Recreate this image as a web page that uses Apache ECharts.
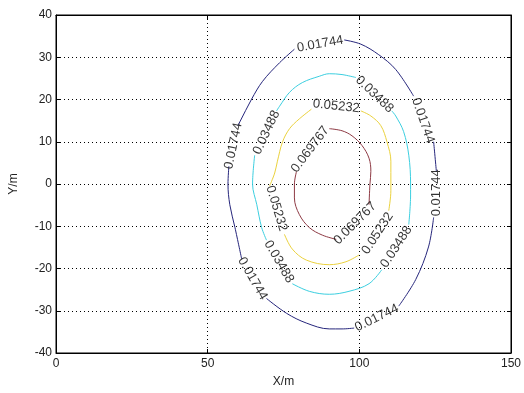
<!DOCTYPE html>
<html lang="en">
<head>
    <meta charset="UTF-8">
    <title>contour</title>
</head>
<body style="margin:0">
<div id="main" style="width:524px;height:393px"></div>
<script src="https://cdnjs.cloudflare.com/ajax/libs/echarts/6.0.0/echarts.min.js"></script>
<script>
    // contour levels and colours
    var levels = ['0.01744', '0.03488', '0.05232', '0.069767'];
    var levelColors = ['#26267c', '#3ccfe0', '#ebd23e', '#8e3a44'];

    // each contour line is split in pieces where the inline labels sit
    var line01744 = [
        [[78.6,31.9],[73.7,28.7],[68.1,24.3],[64.5,20.1],[60.6,14.7],[59.9,13.8]],
        [[57.0,4.2],[56.7,0],[57.3,-4.9],[59.0,-10.3],[61.2,-17.7]],
        [[69.4,-27.1],[76.0,-30.6],[82.5,-32.9],[90.1,-34.3],[94.3,-34.3],[98.3,-34.1]],
        [[113.0,-28.9],[118.6,-22.6],[122.8,-14.9],[124.5,-7.9]],
        [[125.4,3.0],[124.5,10.0]],
        [[117.9,20.8],[112.0,27.1],[106.4,30.6],[100.5,33.1],[95.0,34.1]]
    ];
    var line03488 = [
        [[98.9,25.2],[94.3,25.9],[90.1,26.1],[86.8,25.5],[81.2,24.0],[77.0,21.7],[73.7,18.4],[72.7,17.3]],
        [[65.5,6.8],[64.8,0],[66.2,-4.9],[67.8,-10.3],[69.4,-13.3]],
        [[77.9,-23.6],[83.5,-25.4],[90.1,-26.1],[96.6,-25.4],[103.2,-23.6],[107.4,-20.3]],
        [[116.3,-9.6],[116.9,-2.6],[116.9,0],[116.3,6.8],[114.6,12.4],[112.0,16.1],[110.7,17.3]]
    ];
    var line05232 = [
        [[100.5,17.3],[103.8,16.1],[107.1,13.8],[109.1,10.0],[110.4,5.4],[110.4,0],[110.4,-1.6],[109.7,-6.3]],
        [[99.9,-16.8],[95.6,-18.4],[90.1,-19.1],[82.5,-18.0],[77.9,-15.4],[75.3,-11.9]],
        [[70.4,-0.5],[72.1,2.6],[73.0,5.4],[74.7,10.0],[77.0,13.1],[80.2,15.4],[84.2,17.7]]
    ];
    var line069767 = [
        [[90.1,13.1],[94.3,12.6],[97.6,11.4],[100.9,9.1],[103.2,6.1],[103.8,3.0],[103.5,0],[103.2,-4.9]],
        [[92.4,-13.1],[87.8,-12.1],[83.5,-10.3],[80.2,-7.2],[78.6,-3.3],[78.6,0],[79.3,3.0]]
    ];
    var contourLines = [line01744, line03488, line05232, line069767];

    // inline labels: level index, position, angle
    var labelLevel = [0, 0, 0, 0, 0, 0, 1, 1, 1, 1, 2, 2, 2, 3, 3];
    var labelPos = [
        [87.1,33.1],[58.5,9.0],[64.8,-22.4],[105.8,-31.7],[125.4,-2.1],[121.0,15.0],
        [105.0,21.2],[69.4,12.2],[73.5,-18.4],[112.2,-14.9],
        [92.4,18.4],[72.7,-5.8],[106.0,-11.7],
        [83.8,8.2],[98.6,-9.3]
    ];
    var labelAngle = [10, 78, -60, 26, 90, -71, -44, 65, -60, 57, -6, -73, 57, 53, 45];

    var xTicks = [0, 50, 100, 150];
    var yTicks = [-40, -30, -20, -10, 0, 10, 20, 30, 40];

    var myChart = echarts.init(document.getElementById('main'));

    var series = [];
    for (var i = 0; i < contourLines.length; i++) {
        for (var j = 0; j < contourLines[i].length; j++) {
            series.push({
                type: 'line',
                data: contourLines[i][j],
                smooth: 0.35,
                symbol: 'none',
                silent: true,
                lineStyle: {color: levelColors[i], width: 1},
                z: 3
            });
        }
    }

    var labelData = [];
    for (var k = 0; k < labelPos.length; k++) {
        labelData.push({
            value: labelPos[k],
            label: {
                show: true,
                position: 'inside',
                rotate: labelAngle[k],
                formatter: levels[labelLevel[k]]
            }
        });
    }
    series.push({
        type: 'scatter',
        data: labelData,
        symbolSize: 0,
        silent: true,
        label: {
            color: '#000',
            fontFamily: 'Liberation Sans',
            fontSize: 13
        },
        z: 4
    });

    var axisFont = {color: '#222', fontFamily: 'Liberation Sans', fontSize: 12};
    var gridLine = {show: true, lineStyle: {color: '#000', type: [1, 3], width: 1}};

    myChart.setOption({
        backgroundColor: '#fff',
        animation: false,
        grid: {left: 55, right: 11, top: 15, bottom: 35, show: true, borderColor: '#000', borderWidth: 1},
        xAxis: [{
            type: 'value',
            min: xTicks[0],
            max: xTicks[xTicks.length - 1],
            interval: 50,
            name: 'X/m',
            nameLocation: 'middle',
            nameGap: 23,
            nameTextStyle: {color: '#222', fontFamily: 'Liberation Sans', fontSize: 12},
            axisLine: {show: true, onZero: false, lineStyle: {color: '#000'}},
            axisTick: {inside: true, length: 4, lineStyle: {color: '#000'}},
            axisLabel: Object.assign({margin: 5}, axisFont),
            splitLine: gridLine
        }, {
            type: 'value',
            position: 'top',
            min: xTicks[0],
            max: xTicks[xTicks.length - 1],
            interval: 50,
            axisLine: {show: true, onZero: false, lineStyle: {color: '#000'}},
            axisTick: {inside: true, length: 4, lineStyle: {color: '#000'}},
            axisLabel: {show: false},
            splitLine: {show: false}
        }],
        yAxis: [{
            type: 'value',
            min: yTicks[0],
            max: yTicks[yTicks.length - 1],
            interval: 10,
            name: 'Y/m',
            nameLocation: 'middle',
            nameGap: 36,
            nameTextStyle: {color: '#222', fontFamily: 'Liberation Sans', fontSize: 12},
            axisLine: {show: true, onZero: false, lineStyle: {color: '#000'}},
            axisTick: {inside: true, length: 4, lineStyle: {color: '#000'}},
            axisLabel: Object.assign({margin: 4}, axisFont),
            splitLine: gridLine
        }, {
            type: 'value',
            position: 'right',
            min: yTicks[0],
            max: yTicks[yTicks.length - 1],
            interval: 10,
            axisLine: {show: true, onZero: false, lineStyle: {color: '#000'}},
            axisTick: {inside: true, length: 4, lineStyle: {color: '#000'}},
            axisLabel: {show: false},
            splitLine: {show: false}
        }],
        series: series
    });
</script>
</body>
</html>
